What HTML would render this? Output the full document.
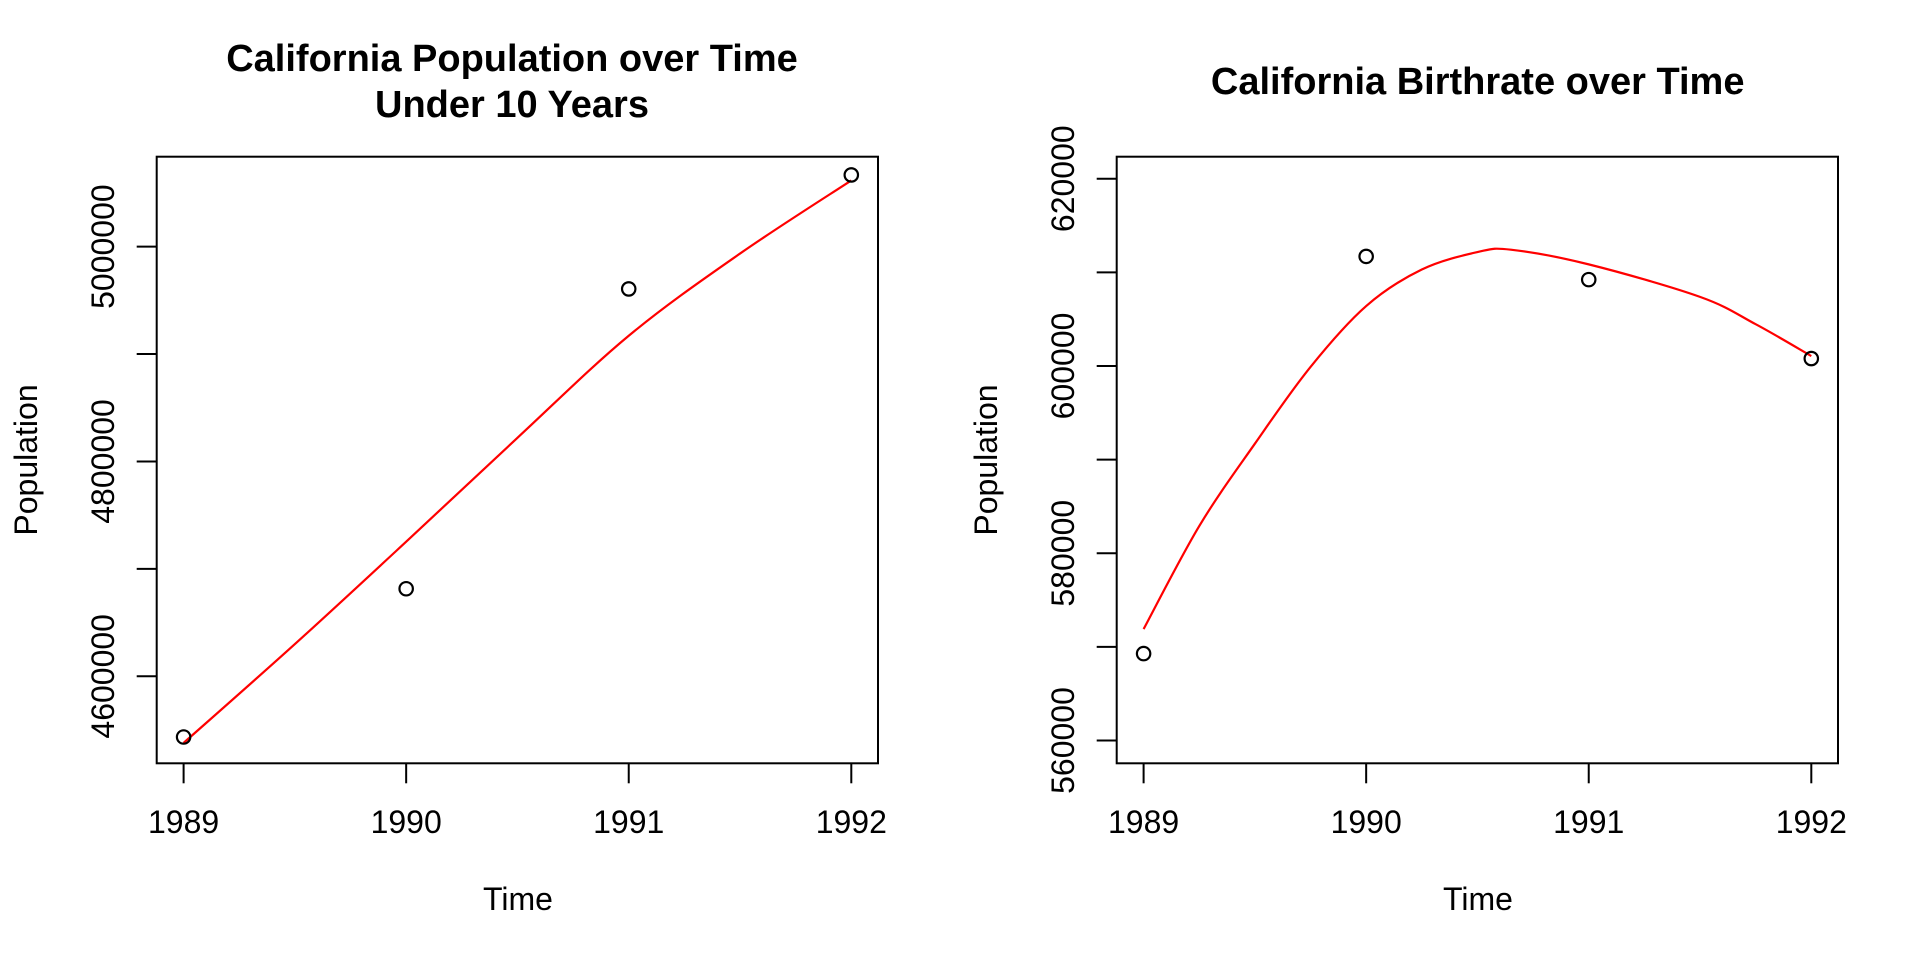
<!DOCTYPE html>
<html><head><meta charset="utf-8"><style>
html,body{margin:0;padding:0;background:#fff;}
svg{display:block;font-family:"Liberation Sans",Arial,sans-serif;}
</style></head><body>
<svg id="fig" width="1920" height="960" viewBox="0 0 1920 960" xmlns="http://www.w3.org/2000/svg"></svg>
<script>
const years = [1989, 1990, 1991, 1992];
const popValues = [4543500, 4681500, 4960600, 5066700];
const popCurveX = [1989, 1989.5, 1990, 1990.5, 1991, 1991.5, 1992];
const popCurveY = [4538000, 4630000, 4725300, 4822000, 4917000, 4993500, 5061600];
const popTicks = [4600000, 4800000, 5000000];
const popMinor = [4700000, 4900000];
const birthValues = [569280, 611700, 609220, 600790];
const birthCurveX = [1989, 1989.25, 1989.5, 1989.75, 1990, 1990.25, 1990.5, 1990.65, 1991, 1991.5, 1991.75, 1992];
const birthCurveY = [571900, 582900, 591700, 599900, 606400, 610300, 612160, 612420, 610850, 607380, 604460, 601060];
const birthTicks = [560000, 580000, 600000, 620000];
const birthMinor = [570000, 590000, 610000];

const NS = "http://www.w3.org/2000/svg";
const svg = document.getElementById('fig');
function mk(tag, attrs, parent, text){
  const e = document.createElementNS(NS, tag);
  for (const k in attrs) e.setAttribute(k, attrs[k]);
  if (text !== undefined) e.textContent = text;
  (parent || svg).appendChild(e);
  return e;
}
function smoothPath(pts){
  let d = `M${pts[0][0]},${pts[0][1]}`;
  for (let i = 0; i < pts.length - 1; i++){
    const p0 = pts[Math.max(0,i-1)], p1 = pts[i], p2 = pts[i+1], p3 = pts[Math.min(pts.length-1,i+2)];
    const c1 = [p1[0]+(p2[0]-p0[0])/6, p1[1]+(p2[1]-p0[1])/6];
    const c2 = [p2[0]-(p3[0]-p1[0])/6, p2[1]-(p3[1]-p1[1])/6];
    d += ` C${c1[0]},${c1[1]} ${c2[0]},${c2[1]} ${p2[0]},${p2[1]}`;
  }
  return d;
}
function panel(cfg){
  const g = mk('g', {});
  
  
  const L = cfg.ox + 156.7, R = cfg.ox + 878, T = 156.7, B = 763.3;
  const x = v => cfg.ox + 183.6 + (v - 1989) * (851.3 - 183.6) / 3;
  const y = v => cfg.y0px + (v - cfg.y0) * (cfg.y1px - cfg.y0px) / (cfg.y1 - cfg.y0);
  const box = mk('rect', {x:L, y:T, width:R-L, height:B-T, fill:'none', stroke:'#000', 'stroke-width':2}, g);
  
  
  years.forEach(yr => {
    const t = mk('line', {x1:x(yr), x2:x(yr), y1:B, y2:B+20, stroke:'#000', 'stroke-width':2}, g);
    
    
    const lb = mk('text', {x:x(yr), y:833, 'font-size':32, 'text-anchor':'middle'}, g, String(yr));
    
    
  });
  cfg.ticks.concat(cfg.minor).forEach(v => {
    const t = mk('line', {x1:L-20, x2:L, y1:y(v), y2:y(v), stroke:'#000', 'stroke-width':2}, g);
    
    
  });
  cfg.ticks.forEach(v => {
    const lb = mk('text', {x:cfg.ox+114, y:y(v), 'font-size':32, 'text-anchor':'middle', transform:`rotate(-90 ${cfg.ox+114} ${y(v)})`}, g, String(v));
    
    
  });
  cfg.title.forEach((line, i) => {
    const tt = mk('text', {x:cfg.ox+cfg.tcx, y:cfg.tby[i], 'font-size':38, 'font-weight':'bold', 'text-anchor':'middle'}, g, line);
    
    
  });
  const xt = mk('text', {x:cfg.ox+518, y:910, 'font-size':32, 'text-anchor':'middle'}, g, 'Time');
  
  
  const yt = mk('text', {x:cfg.ox+37, y:460, 'font-size':32, 'text-anchor':'middle', transform:`rotate(-90 ${cfg.ox+37} 460)`}, g, 'Population');
  
  
  const pts = cfg.cx.map((v, i) => [x(v), y(cfg.cy[i])]);
  const c = mk('path', {d:smoothPath(pts), fill:'none', stroke:'#ff0000', 'stroke-width':2.2}, g);
  
  
  cfg.values.forEach((v, i) => {
    const p = mk('circle', {cx:x(years[i]), cy:y(v), r:6.7, fill:'none', stroke:'#000', 'stroke-width':2.2}, g);
    
    
  });
}
panel({name:'population-panel', ox:0, y0:4600000, y1:5000000, y0px:676.3, y1px:246.6,
  ticks:popTicks, minor:popMinor, values:popValues, cx:popCurveX, cy:popCurveY,
  title:['California Population over Time','Under 10 Years'], tcx:512, tby:[71,117]});
panel({name:'birthrate-panel', ox:960, y0:560000, y1:620000, y0px:740.5, y1px:178.7,
  ticks:birthTicks, minor:birthMinor, values:birthValues, cx:birthCurveX, cy:birthCurveY,
  title:['California Birthrate over Time'], tcx:517.7, tby:[94]});
</script>
</body></html>
